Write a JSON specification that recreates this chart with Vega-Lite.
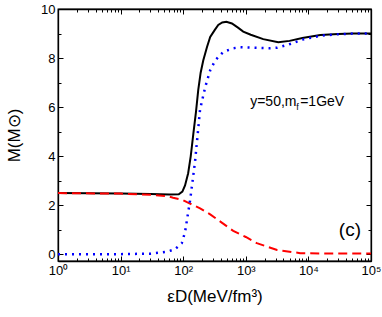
{
  "$schema": "https://vega.github.io/schema/vega-lite/v6.json",
  "width": 313,
  "height": 252,
  "autosize": "none",
  "padding": {"left": 58, "top": 9, "right": 11, "bottom": 56},
  "config": {
    "font": "Liberation Sans",
    "view": {"stroke": "black", "strokeWidth": 1.3},
    "axis": {
      "grid": false,
      "domainColor": "black",
      "domainWidth": 1.3,
      "tickColor": "black",
      "tickWidth": 1,
      "labelColor": "black",
      "labelFont": "Liberation Sans",
      "labelFontSize": 13,
      "titleFont": "Liberation Sans",
      "titleFontSize": 17,
      "titleFontWeight": "normal",
      "titleColor": "black"
    }
  },
  "datasets": {
    "curves": [
      {"e": 1, "m": 2.49, "s": "total"},
      {"e": 10, "m": 2.47, "s": "total"},
      {"e": 30, "m": 2.45, "s": "total"},
      {"e": 60, "m": 2.43, "s": "total"},
      {"e": 85, "m": 2.44, "s": "total"},
      {"e": 97, "m": 2.55, "s": "total"},
      {"e": 107, "m": 2.8, "s": "total"},
      {"e": 120, "m": 3.3, "s": "total"},
      {"e": 132, "m": 4.0, "s": "total"},
      {"e": 145, "m": 4.9, "s": "total"},
      {"e": 160, "m": 5.8, "s": "total"},
      {"e": 174, "m": 6.7, "s": "total"},
      {"e": 190, "m": 7.4, "s": "total"},
      {"e": 209, "m": 7.9, "s": "total"},
      {"e": 240, "m": 8.45, "s": "total"},
      {"e": 270, "m": 8.86, "s": "total"},
      {"e": 320, "m": 9.15, "s": "total"},
      {"e": 363, "m": 9.35, "s": "total"},
      {"e": 420, "m": 9.45, "s": "total"},
      {"e": 490, "m": 9.48, "s": "total"},
      {"e": 600, "m": 9.41, "s": "total"},
      {"e": 750, "m": 9.24, "s": "total"},
      {"e": 910, "m": 9.08, "s": "total"},
      {"e": 1200, "m": 8.95, "s": "total"},
      {"e": 1900, "m": 8.77, "s": "total"},
      {"e": 3300, "m": 8.64, "s": "total"},
      {"e": 5000, "m": 8.7, "s": "total"},
      {"e": 8000, "m": 8.82, "s": "total"},
      {"e": 15500, "m": 8.94, "s": "total"},
      {"e": 30000, "m": 8.98, "s": "total"},
      {"e": 52000, "m": 9.0, "s": "total"},
      {"e": 100000, "m": 9.0, "s": "total"},
      {"e": 1, "m": 2.49, "s": "red"},
      {"e": 10, "m": 2.47, "s": "red"},
      {"e": 30, "m": 2.42, "s": "red"},
      {"e": 55, "m": 2.37, "s": "red"},
      {"e": 69, "m": 2.3, "s": "red"},
      {"e": 100, "m": 2.2, "s": "red"},
      {"e": 115, "m": 2.12, "s": "red"},
      {"e": 186, "m": 1.87, "s": "red"},
      {"e": 270, "m": 1.62, "s": "red"},
      {"e": 630, "m": 0.95, "s": "red"},
      {"e": 1000, "m": 0.7, "s": "red"},
      {"e": 1500, "m": 0.45, "s": "red"},
      {"e": 3160, "m": 0.17, "s": "red"},
      {"e": 7400, "m": 0.04, "s": "red"},
      {"e": 15000, "m": 0.03, "s": "red"},
      {"e": 100000, "m": 0.03, "s": "red"},
      {"e": 1, "m": 0.0, "s": "blue"},
      {"e": 10, "m": 0.0, "s": "blue"},
      {"e": 30, "m": 0.02, "s": "blue"},
      {"e": 55, "m": 0.1, "s": "blue"},
      {"e": 74, "m": 0.2, "s": "blue"},
      {"e": 95, "m": 0.45, "s": "blue"},
      {"e": 107, "m": 0.9, "s": "blue"},
      {"e": 115, "m": 1.4, "s": "blue"},
      {"e": 129, "m": 2.2, "s": "blue"},
      {"e": 155, "m": 3.8, "s": "blue"},
      {"e": 186, "m": 5.9, "s": "blue"},
      {"e": 224, "m": 6.8, "s": "blue"},
      {"e": 270, "m": 7.5, "s": "blue"},
      {"e": 324, "m": 7.9, "s": "blue"},
      {"e": 390, "m": 8.12, "s": "blue"},
      {"e": 437, "m": 8.25, "s": "blue"},
      {"e": 630, "m": 8.4, "s": "blue"},
      {"e": 810, "m": 8.44, "s": "blue"},
      {"e": 2450, "m": 8.4, "s": "blue"},
      {"e": 3160, "m": 8.42, "s": "blue"},
      {"e": 4570, "m": 8.53, "s": "blue"},
      {"e": 8300, "m": 8.76, "s": "blue"},
      {"e": 15500, "m": 8.91, "s": "blue"},
      {"e": 30000, "m": 8.97, "s": "blue"},
      {"e": 52000, "m": 9.0, "s": "blue"},
      {"e": 100000, "m": 9.0, "s": "blue"}
    ],
    "notes": [
      {"e": 1175, "m": 6.2, "a": "y=50,m", "b": "f", "c": "=1GeV", "tag": "(c)", "e2": 46000, "m2": 0.98}
    ]
  },
  "layer": [
    {
      "data": {"name": "curves"},
      "transform": [{"filter": "datum.s == 'total'"}],
      "mark": {"type": "line", "color": "black", "strokeWidth": 2, "clip": true},
      "encoding": {
        "x": {
          "field": "e", "type": "quantitative",
          "scale": {"type": "log", "domain": [1, 100000]},
          "axis": {
            "orient": "bottom",
            "title": "εD(MeV/fm³)",
            "titlePadding": 11,
            "values": [1,2,3,4,5,6,7,8,9,10,20,30,40,50,60,70,80,90,100,200,300,400,500,600,700,800,900,1000,2000,3000,4000,5000,6000,7000,8000,9000,10000,20000,30000,40000,50000,60000,70000,80000,90000,100000],
            "labelExpr": "abs(log(datum.value)/LN10 - round(log(datum.value)/LN10)) < 0.001 ? '10' + ['⁰','¹','²','³','⁴','⁵'][round(log(datum.value)/LN10)] : ''",
            "labelFlush": false,
            "labelPadding": 8,
            "tickSize": {"condition": {"test": "abs(log(datum.value)/LN10 - round(log(datum.value)/LN10)) < 0.001", "value": -5}, "value": -3}
          }
        },
        "y": {
          "field": "m", "type": "quantitative",
          "scale": {"domain": [-0.28, 10], "nice": false, "zero": false},
          "axis": {
            "orient": "left",
            "title": "M(M⊙)",
            "titlePadding": 17,
            "values": [0,1,2,3,4,5,6,7,8,9,10],
            "labelExpr": "datum.value % 2 == 0 ? datum.label : ''",
            "labelPadding": 8,
            "labelFlush": false,
            "tickSize": {"condition": {"test": "datum.value % 2 == 0", "value": -5}, "value": -3}
          }
        }
      }
    },
    {
      "data": {"name": "curves"},
      "transform": [{"filter": "datum.s == 'red'"}],
      "mark": {"type": "line", "color": "#ff0000", "strokeWidth": 2, "strokeDash": [9, 5], "clip": true},
      "encoding": {
        "x": {"field": "e", "type": "quantitative", "axis": {
            "orient": "top", "title": null, "labels": false,
            "values": [1,2,3,4,5,6,7,8,9,10,20,30,40,50,60,70,80,90,100,200,300,400,500,600,700,800,900,1000,2000,3000,4000,5000,6000,7000,8000,9000,10000,20000,30000,40000,50000,60000,70000,80000,90000,100000],
            "tickSize": {"condition": {"test": "abs(log(datum.value)/LN10 - round(log(datum.value)/LN10)) < 0.001", "value": -5}, "value": -3}
        }},
        "y": {"field": "m", "type": "quantitative", "axis": {
            "orient": "right", "title": null, "labels": false,
            "values": [0,1,2,3,4,5,6,7,8,9,10],
            "tickSize": {"condition": {"test": "datum.value % 2 == 0", "value": -5}, "value": -3}
        }}
      }
    },
    {
      "data": {"name": "curves"},
      "transform": [{"filter": "datum.s == 'blue'"}],
      "mark": {"type": "line", "color": "#0000ff", "strokeWidth": 2.5, "strokeDash": [2, 5], "clip": true},
      "encoding": {
        "x": {"field": "e", "type": "quantitative", "axis": null},
        "y": {"field": "m", "type": "quantitative", "axis": null}
      }
    },
    {
      "data": {"name": "notes"},
      "mark": {"type": "text", "align": "left", "baseline": "middle", "fontSize": 14, "font": "Liberation Sans", "color": "black"},
      "encoding": {
        "x": {"field": "e", "type": "quantitative", "axis": null},
        "y": {"field": "m", "type": "quantitative", "axis": null},
        "text": {"field": "a"}
      }
    },
    {
      "data": {"name": "notes"},
      "mark": {"type": "text", "align": "left", "baseline": "middle", "fontSize": 9, "dx": 46, "dy": 5, "font": "Liberation Sans", "color": "black"},
      "encoding": {
        "x": {"field": "e", "type": "quantitative", "axis": null},
        "y": {"field": "m", "type": "quantitative", "axis": null},
        "text": {"field": "b"}
      }
    },
    {
      "data": {"name": "notes"},
      "mark": {"type": "text", "align": "left", "baseline": "middle", "fontSize": 14, "dx": 50, "font": "Liberation Sans", "color": "black"},
      "encoding": {
        "x": {"field": "e", "type": "quantitative", "axis": null},
        "y": {"field": "m", "type": "quantitative", "axis": null},
        "text": {"field": "c"}
      }
    },
    {
      "data": {"name": "notes"},
      "mark": {"type": "text", "align": "center", "baseline": "middle", "fontSize": 19, "font": "Liberation Sans", "color": "black"},
      "encoding": {
        "x": {"field": "e2", "type": "quantitative", "axis": null},
        "y": {"field": "m2", "type": "quantitative", "axis": null},
        "text": {"field": "tag"}
      }
    }
  ],
  "resolve": {"axis": {"x": "independent", "y": "independent"}}
}
